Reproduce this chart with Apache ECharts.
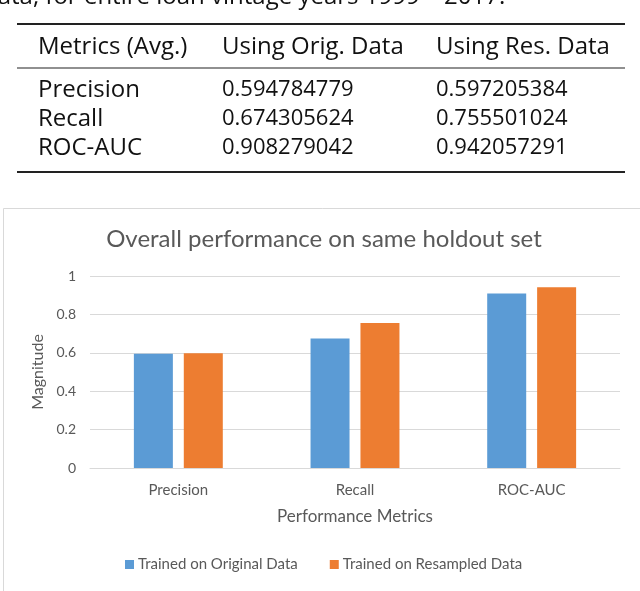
<!DOCTYPE html>
<html>
<head>
<meta charset="utf-8">
<script src="https://cdn.jsdelivr.net/npm/echarts@6/dist/echarts.min.js"></script>
<style>
html,body{margin:0;padding:0;background:#fff;}
#main{width:640px;height:591px;}
</style>
</head>
<body>
<div id="main"></div>
<script>
var captionText = 'data, for entire loan vintage years 1999 \u2013 2017.';
var tableHeader = ['Metrics (Avg.)', 'Using Orig. Data', 'Using Res. Data'];
var metrics = ['Precision', 'Recall', 'ROC-AUC'];
var origValues = ['0.594784779', '0.674305624', '0.908279042'];
var resValues = ['0.597205384', '0.755501024', '0.942057291'];
var chartTitle = 'Overall performance on same holdout set';
var seriesNames = ['Trained on Original Data', 'Trained on Resampled Data'];
var yTicks = [0, 0.2, 0.4, 0.6, 0.8, 1];

var tableFont = '"Open Sans", "DejaVu Sans", sans-serif';
var chartFont = 'Lato, "Open Sans", sans-serif';
var colX = [38, 222, 436];
var rowY = [90, 119, 148];

var graphics = [];
graphics.push({type:'text', x: -17, y: -3, style:{text: captionText, font: '24px ' + tableFont, fill:'#111', textVerticalAlign:'middle'}});
graphics.push({type:'line', shape:{x1:17,y1:24,x2:625,y2:24}, style:{stroke:'#222', lineWidth:2}});
graphics.push({type:'line', shape:{x1:17,y1:68,x2:625,y2:68}, style:{stroke:'#222', lineWidth:1.2}});
graphics.push({type:'line', shape:{x1:17,y1:172,x2:625,y2:172}, style:{stroke:'#222', lineWidth:2}});
tableHeader.forEach(function(h, i){
  graphics.push({type:'text', x: colX[i], y: 47, style:{text:h, font:'24px ' + tableFont, fill:'#111', textVerticalAlign:'middle'}});
});
metrics.forEach(function(m, r){
  var cells = [m, origValues[r], resValues[r]];
  cells.forEach(function(c, i){
    var size = i === 0 ? 24 : 22;
    graphics.push({type:'text', x: colX[i], y: rowY[r], style:{text:c, font: size + 'px ' + tableFont, fill:'#111', textVerticalAlign:'middle'}});
  });
});
graphics.push({type:'rect', shape:{x:3.5,y:208.5,width:700,height:500}, style:{fill:'none', stroke:'#D9D9D9', lineWidth:1}, z:-1});
graphics.push({type:'text', x: 324, y: 239, style:{text: chartTitle, font:'24px ' + chartFont, fill:'#595959', textAlign:'center', textVerticalAlign:'middle'}});

var chart = echarts.init(document.getElementById('main'), null, {renderer:'canvas'});
chart.setOption({
  backgroundColor: '#fff',
  animation: false,
  textStyle: {fontFamily: chartFont},
  graphic: graphics,
  grid: {left: 90, right: 20, top: 276, bottom: 123},
  legend: {
    data: seriesNames,
    bottom: 14,
    left: 120,
    itemWidth: 9, itemHeight: 9, itemGap: 32,
    icon: 'rect',
    textStyle: {color:'#595959', fontSize: 15, fontFamily: chartFont, padding: [0,0,0,-1]}
  },
  xAxis: {
    type: 'category',
    data: metrics,
    name: 'Performance Metrics',
    nameLocation: 'middle',
    nameGap: 40,
    nameTextStyle: {color:'#595959', fontSize: 17, fontFamily: chartFont},
    axisLine: {lineStyle:{color:'#D9D9D9'}},
    axisTick: {show:false},
    axisLabel: {color:'#595959', fontSize: 15, margin: 15, fontFamily: chartFont}
  },
  yAxis: {
    type: 'value',
    min: 0, max: 1, interval: 0.2,
    name: 'Magnitude',
    nameLocation: 'middle',
    nameGap: 42,
    nameTextStyle: {color:'#595959', fontSize: 16, fontFamily: chartFont},
    axisLine: {show:false},
    axisTick: {show:false},
    splitLine: {lineStyle:{color:'#D9D9D9'}},
    axisLabel: {color:'#595959', fontSize: 14, margin: 14, fontFamily: chartFont}
  },
  series: [
    {name: seriesNames[0], type:'bar', data: origValues.map(Number), barWidth: 39, barGap: '28%', itemStyle:{color:'#5B9BD5'}},
    {name: seriesNames[1], type:'bar', data: resValues.map(Number), barWidth: 39, barGap: '28%', itemStyle:{color:'#ED7D31'}}
  ]
});
</script>
</body>
</html>
